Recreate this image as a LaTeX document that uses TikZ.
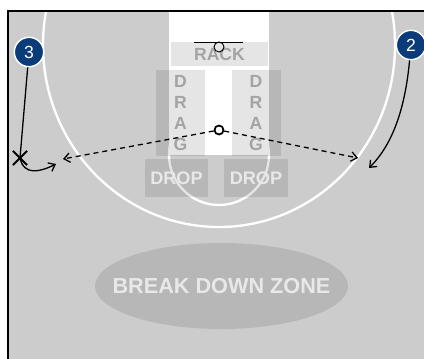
\documentclass[tikz,border=0pt]{standalone}
\usepackage{fontspec}
\setmainfont{Liberation Sans}
\usetikzlibrary{arrows.meta,shapes.geometric,shapes.misc}
\definecolor{courtgray}{HTML}{CCCCCC}
\definecolor{navy}{HTML}{0B3C7A}
\definecolor{labelgray}{HTML}{A3A3A3}
\definecolor{paleword}{HTML}{E8E8E8}
\tikzset{
    player/.style = {circle,
                    fill=navy,
                    draw=white,
                    text=white,
                    line width=1.2pt,
                    inner sep=0pt,
                    minimum size=0.88cm,
                    font=\fontsize{15}{15}\selectfont},
    rackbox/.style = {rectangle,
                    fill=black,
                    fill opacity=0.1,
                    text opacity=1,
                    text=labelgray,
                    inner sep=0pt,
                    minimum width=2.91cm,
                    minimum height=0.72cm,
                    font=\bfseries\fontsize{15}{15}\selectfont},
    dragbox/.style = {rackbox,
                    align=center,
                    minimum width=1.47cm,
                    minimum height=2.58cm,
                    font=\bfseries\fontsize{15}{17.9}\selectfont},
    dropbox/.style = {rackbox,
                    text=paleword,
                    minimum width=1.9cm,
                    minimum height=1.14cm,
                    font=\bfseries\fontsize{15.5}{15.5}\selectfont},
    zone/.style =   {ellipse,
                    fill=black,
                    fill opacity=0.1,
                    inner sep=0pt,
                    minimum width=7.59cm,
                    minimum height=2.58cm},
    zonetext/.style = {text=paleword,
                    text opacity=1,
                    font=\bfseries\fontsize{18.5}{18.5}\selectfont},
    rim/.style =    {circle,
                    draw=black,
                    line width=0.8pt,
                    inner sep=0pt,
                    minimum size=0.3cm},
    ball/.style =   {circle,
                    draw=black,
                    line width=1.5pt,
                    inner sep=0pt,
                    minimum size=0.27cm},
    cutmark/.style = {cross out,
                    draw=black,
                    line width=1.8pt,
                    inner sep=0pt,
                    minimum size=0.36cm},
    courtline/.style = {draw=white,
                    line width=2pt},
    -,
    cut/.style =    {->, line width=1.1pt},
    pass/.style =   {->, line width=1.1pt, dash pattern=on 4.3pt off 3.4pt},
    >={Straight Barb[length=5pt,width=8pt]}}

\begin{document}
\begin{tikzpicture}[x=0.03cm, y=0.03cm]
    \useasboundingbox (0,0) rectangle (424,-358);
    % court and paint
    \fill[courtgray] (8,-11) rectangle (430,-365);
    \fill[white] (169,-11) rectangle (269,-155);
    \begin{scope}
        \clip (8,-11) rectangle (424,-358);
        \draw[courtline] (219,-45) ellipse [x radius=5.28cm, y radius=5.46cm];
        \draw[courtline] (219,-155) circle [radius=1.5cm];
    \end{scope}
    \draw[line width=1.5pt] (8,-365) -- (8,-11) -- (430,-11);

    % zones
    \node[rackbox]  (rack)   at (219.5,-54)  {RACK};
    \node[dragbox]  (dragl)  at (180.5,-113) {D\\R\\A\\G};
    \node[dragbox]  (dragr)  at (256,-113)   {D\\R\\A\\G};
    \node[dropbox]  (dropl)  at (176.5,-178) {DROP};
    \node[dropbox]  (dropr)  at (256,-178)   {DROP};
    \node[zone]     (bdz)    at (221.5,-286) {};
    \node[zonetext] (bdzt)   at (bdz.center) {BREAK DOWN ZONE};

    % basket
    \draw[line width=0.8pt] (194,-42) -- (243,-42);
    \node[rim]      (hoop)   at (219,-47)    {};

    % players and movement
    \node[player]   (p3)     at (29,-52)     {3};
    \node[player]   (p2)     at (411,-45)    {2};
    \node[cutmark]  (x3)     at (20,-158)    {};
    \node[ball]     (ball)   at (219,-130)   {};
    \coordinate     (c3)     at (56,-164);
    \coordinate     (c2)     at (369,-168);
    \coordinate     (lw)     at (63,-159);
    \coordinate     (rw)     at (358,-158);

    \draw[line width=1.1pt] (p3) -- (x3.center);
    \draw[cut] (x3.center) .. controls (24,-176) and (40,-172) .. (c3);
    \draw[cut] (p2) .. controls (405,-110) and (392,-145) .. (c2);
    \draw[pass] (ball) -- (lw);
    \draw[pass] (ball) -- (rw);
\end{tikzpicture}
\end{document}
